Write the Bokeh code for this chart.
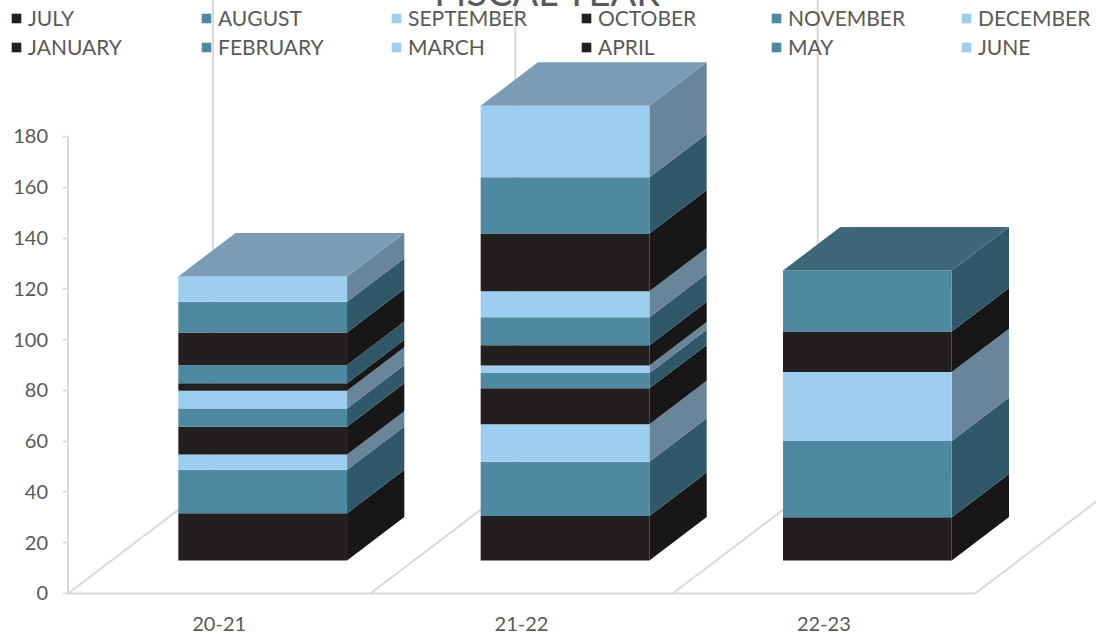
from bokeh.plotting import figure
from bokeh.models import Range1d, FixedTicker, Legend, LegendItem, ColumnDataSource
from bokeh.core.properties import value
from bokeh.embed import file_html
from bokeh.resources import INLINE

# ---------------- data ----------------
years = ["20-21", "21-22", "22-23"]
months = ["JULY", "AUGUST", "SEPTEMBER", "OCTOBER", "NOVEMBER", "DECEMBER",
          "JANUARY", "FEBRUARY", "MARCH", "APRIL", "MAY", "JUNE"]
july = [18.6, 17.5, 17.0]
august = [17.1, 21.4, 30.1]
september = [6.0, 14.8, 27.1]
october = [11.0, 14.1, 16.0]
november = [7.2, 6.0, 24.0]
december = [7.0, 3.0, 0.0]
january = [2.9, 8.0, 0.0]
february = [7.2, 11.0, 0.0]
march = [0.0, 10.2, 0.0]
april = [12.8, 22.8, 0.0]
may = [12.1, 22.1, 0.0]
june = [10.0, 28.2, 0.0]
series = [july, august, september, october, november, december,
          january, february, march, april, may, june]
y_ticks = [0, 20, 40, 60, 80, 100, 120, 140, 160, 180]

# ---------------- style ----------------
FRONT = ["#231F20", "#4E88A1", "#9DCEEF"]
SIDE = ["#181616", "#315868", "#68859A"]
TOP = ["#2E2A2B", "#3E6878", "#7A9CB6"]
GRID = "#D9D9D9"
TXT = "#595959"
FONT = "Lato"

DEPTH_X = 0.4796   # floor depth in x units
DEPTH_Y = 43.32    # floor depth in value units
F_FRONT, F_BACK = 0.30, 0.695
BAR_W = 0.558
OX0, OY0 = F_FRONT * DEPTH_X, F_FRONT * DEPTH_Y
BDX, BDY = (F_BACK - F_FRONT) * DEPTH_X, (F_BACK - F_FRONT) * DEPTH_Y

p = figure(width=1088, height=653,
           x_range=Range1d(-0.1968, 3.4017), y_range=Range1d(-3.151, 241.43),
           output_backend="svg", toolbar_location=None,
           min_border_left=0, min_border_right=0, min_border_top=0, min_border_bottom=32)
p.styles = {"margin-top": "-20px", "margin-left": "8px"}
p.background_fill_color = "white"
p.border_fill_color = "white"
p.outline_line_color = None
p.xgrid.visible = False
p.ygrid.visible = False

# axes
p.yaxis.fixed_location = 0
p.yaxis.ticker = FixedTicker(ticks=y_ticks)
p.yaxis.axis_line_color = None
p.yaxis.major_tick_line_color = GRID
p.yaxis.major_tick_line_width = 1.5
p.yaxis.major_tick_out = 6
p.yaxis.major_tick_in = 0
p.yaxis.minor_tick_line_color = None
p.yaxis.major_label_standoff = 14
p.yaxis.major_label_text_font = FONT
p.yaxis.major_label_text_font_size = "20px"
p.yaxis.major_label_text_color = TXT

centers = [k + 0.5 for k in range(len(years))]
p.xaxis.ticker = FixedTicker(ticks=centers)
p.xaxis.major_label_overrides = {c: y for c, y in zip(centers, years)}
p.xaxis.axis_line_color = None
p.xaxis.major_tick_line_color = None
p.xaxis.minor_tick_line_color = None
p.xaxis.major_label_standoff = 9
p.xaxis.major_label_text_font = FONT
p.xaxis.major_label_text_font_size = "20px"
p.xaxis.major_label_text_color = TXT

# walls / floor lines
n = len(years)
gx0, gy0, gx1, gy1 = [], [], [], []
gx0.append(0); gy0.append(0); gx1.append(n); gy1.append(0)          # floor front edge
for k in range(n + 1):
    gx0.append(k); gy0.append(0); gx1.append(k + DEPTH_X); gy1.append(DEPTH_Y)   # floor diagonals
    gx0.append(k + DEPTH_X); gy0.append(DEPTH_Y); gx1.append(k + DEPTH_X); gy1.append(260)  # back wall
gx0.append(0); gy0.append(0); gx1.append(0); gy1.append(y_ticks[-1])  # value axis line
p.segment(x0=gx0, y0=gy0, x1=gx1, y1=gy1, line_color=GRID, line_width=2)

# 3D stacked bars
cum = [0.0] * n
side_xs, side_ys, side_c = [], [], []
last = [None] * n
front_src = []
for i, vals in enumerate(series):
    ci = i % 3
    L, R, B, T = [], [], [], []
    for k, v in enumerate(vals):
        cx = k + 0.5 + OX0
        l, r = cx - BAR_W / 2, cx + BAR_W / 2
        b = OY0 + cum[k]
        t = b + v
        L.append(l); R.append(r); B.append(b); T.append(t)
        if v > 0:
            side_xs.append([r, r, r + BDX, r + BDX])
            side_ys.append([b, t, t + BDY, b + BDY])
            side_c.append(SIDE[ci])
            last[k] = (l, r, t, ci)
        cum[k] += v
    front_src.append((ColumnDataSource(dict(left=L, right=R, bottom=B, top=T)), ci))

p.patches(xs=side_xs, ys=side_ys, fill_color=side_c, line_color=None)

front_renderers = []
for src, ci in front_src:
    r = p.quad(left="left", right="right", bottom="bottom", top="top", source=src,
               fill_color=FRONT[ci], line_color=None)
    front_renderers.append(r)

top_xs, top_ys, top_c = [], [], []
for item in last:
    if item is None:
        continue
    l, r, t, ci = item
    top_xs.append([l, r, r + BDX, l + BDX])
    top_ys.append([t, t, t + BDY, t + BDY])
    top_c.append(TOP[ci])
p.patches(xs=top_xs, ys=top_ys, fill_color=top_c, line_color=None)

# title (partly cut off at the top, as in the reference)
p.text(x=[1.589], y=[237.1], text=["FISCAL YEAR"], text_align="center",
       text_baseline="alphabetic", text_font=value(FONT), text_font_size="38px",
       text_color=TXT)

legend = Legend(items=[LegendItem(label=m, renderers=[r]) for m, r in zip(months, front_renderers)],
                orientation="horizontal", ncols=6, location=(2, 542),
                glyph_width=12, glyph_height=12, label_standoff=6, label_width=168,
                label_height=21, spacing=4, padding=0, margin=0,
                label_text_font=FONT, label_text_font_size="21px", label_text_color=TXT,
                border_line_alpha=0, background_fill_alpha=0)
p.add_layout(legend)

open("out.html", "w").write(file_html(p, INLINE))
